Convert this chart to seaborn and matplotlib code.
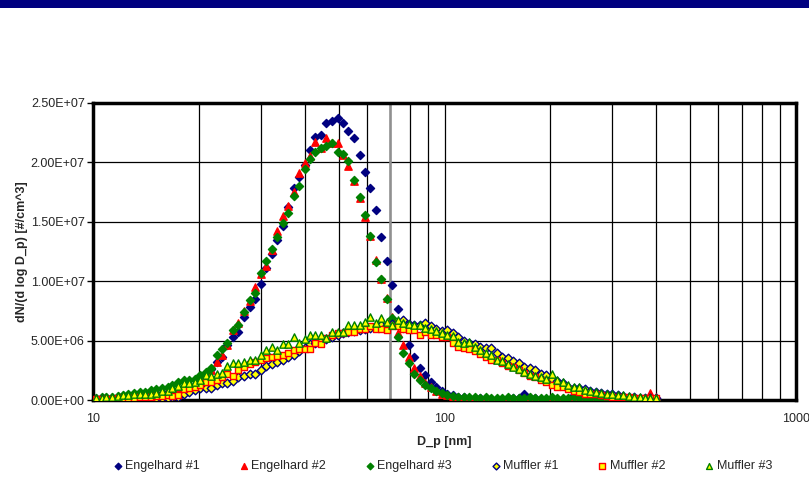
import numpy as np
import pandas as pd
import seaborn as sns
import matplotlib as mpl
mpl.use('Agg')
import matplotlib.pyplot as plt
from matplotlib.ticker import FuncFormatter, LogLocator, NullFormatter, MultipleLocator
from matplotlib.patches import Rectangle

# SMPS bin mid-points [nm]
dp = [10.2, 10.6, 10.9, 11.3, 11.8, 12.2, 12.6, 13.1, 13.6, 14.1,
      14.6, 15.1, 15.7, 16.3, 16.8, 17.5, 18.1, 18.8, 19.5, 20.2,
      20.9, 21.7, 22.5, 23.3, 24.1, 25.0, 25.9, 26.9, 27.9, 28.9,
      30.0, 31.1, 32.2, 33.4, 34.6, 35.9, 37.2, 38.5, 40.0, 41.4,
      42.9, 44.5, 46.1, 47.8, 49.6, 51.4, 53.3, 55.2, 57.3, 59.4,
      61.5, 63.8, 66.1, 68.5, 71.0, 73.7, 76.4, 79.1, 82.0, 85.1,
      88.2, 91.4, 94.7, 98.2, 101.8, 105.5, 109.4, 113.4, 117.6, 121.9,
      126.3, 131.0, 135.8, 140.7, 145.9, 151.2, 156.8, 162.5, 168.5, 174.7,
      181.1, 187.7, 194.6, 201.7, 209.1, 216.7, 224.7, 232.9, 241.4, 250.3,
      259.5, 269.0, 278.8, 289.0, 299.6, 310.6, 322.0, 333.8, 346.0, 358.7,
      371.8, 385.4, 399.5]

# dN/dlogDp in units of 1e6 #/cm^3
engelhard_1 = [0.10, 0.12, 0.14, 0.18, 0.22, 0.26, 0.30, 0.35, 0.40, 0.45,
               0.50, 0.55, 0.62, 0.70, 0.78, 0.88, 1.00, 1.10, 1.25, 1.45,
               1.90, 2.60, 3.20, 3.60, 4.60, 5.30, 5.70, 7.00, 7.80, 8.50,
               9.80, 11.1, 12.3, 13.5, 14.6, 16.2, 17.8, 18.8, 19.8, 21.0,
               22.1, 22.3, 23.3, 23.5, 23.7, 23.3, 22.6, 22.0, 20.6, 19.2,
               17.8, 16.0, 13.7, 11.7, 9.7, 7.7, 6.1, 4.6, 3.6, 2.7,
               2.1, 1.5, 1.1, 0.75, 0.5, 0.4, 0.3, 0.25, 0.2, 0.18,
               0.15, 0.12, 0.1, 0.1, 0.12, 0.15, 0.2, 0.15, 0.55, 0.2,
               0.15, 0.12, 0.1, 0.1, 0.12, 0.1, 0.08, 0.4, 0.1, 0.08,
               0.06, 0.06, 0.05, 0.05, 0.05, 0.04, 0.04, 0.03, 0.03, 0.03,
               0.02, 0.02, 0.02]
engelhard_2 = [0.10, 0.15, 0.18, 0.20, 0.25, 0.30, 0.35, 0.40, 0.45, 0.50,
               0.55, 0.62, 0.70, 0.80, 0.90, 1.05, 1.20, 1.30, 1.45, 1.80,
               2.20, 2.50, 3.20, 3.80, 4.60, 5.90, 6.50, 7.50, 8.30, 9.50,
               10.6, 11.3, 12.6, 14.2, 15.5, 16.3, 17.5, 19.1, 19.9, 20.5,
               21.7, 21.2, 22.0, 21.6, 21.6, 20.6, 19.7, 18.4, 17.0, 15.4,
               13.8, 11.8, 10.2, 8.6, 7.0, 5.6, 4.6, 3.6, 2.7, 2.0,
               1.4, 1.1, 0.8, 0.55, 0.4, 0.3, 0.25, 0.2, 0.18, 0.15,
               0.12, 0.1, 0.12, 0.1, 0.1, 0.12, 0.1, 0.12, 0.15, 0.12,
               0.15, 0.12, 0.1, 0.12, 0.1, 0.15, 0.12, 0.1, 0.12, 0.1,
               0.12, 0.1, 0.1, 0.12, 0.1, 0.1, 0.12, 0.1, 0.15, 0.1,
               0.12, 0.6, 0.3]
engelhard_3 = [0.15, 0.30, 0.30, 0.30, 0.35, 0.40, 0.55, 0.58, 0.65, 0.70,
               0.85, 0.90, 1.00, 1.10, 1.30, 1.50, 1.70, 1.70, 1.75, 2.10,
               2.40, 2.70, 3.80, 4.30, 4.80, 5.90, 6.30, 7.40, 8.40, 9.00,
               10.7, 11.7, 12.7, 13.7, 14.9, 15.7, 17.2, 18.0, 19.4, 20.3,
               20.9, 21.2, 21.4, 21.6, 20.9, 20.7, 20.1, 18.5, 17.1, 15.6,
               13.8, 11.6, 10.2, 8.5, 6.9, 5.3, 4.0, 3.1, 2.2, 1.7,
               1.3, 1.0, 0.8, 0.6, 0.45, 0.35, 0.3, 0.25, 0.25, 0.22,
               0.2, 0.22, 0.2, 0.18, 0.2, 0.22, 0.2, 0.18, 0.2, 0.22,
               0.2, 0.18, 0.2, 0.22, 0.2, 0.18, 0.2, 0.22, 0.2, 0.18,
               0.2, 0.18, 0.15, 0.18, 0.15, 0.15, 0.12, 0.15, 0.12, 0.1,
               0.12, 0.1, 0.12]
muffler_1 = [0.05, 0.05, 0.06, 0.06, 0.07, 0.08, 0.08, 0.10, 0.10, 0.12,
             0.12, 0.15, 0.18, 0.20, 0.25, 0.30, 0.50, 0.70, 0.85, 1.00,
             1.00, 1.05, 1.25, 1.40, 1.45, 1.60, 1.90, 2.00, 2.20, 2.20,
             2.50, 2.90, 3.00, 3.20, 3.40, 3.60, 3.80, 4.10, 4.40, 4.70,
             4.80, 5.00, 5.10, 5.30, 5.50, 5.60, 5.70, 5.80, 5.90, 6.00,
             6.10, 6.20, 6.30, 6.30, 6.40, 6.50, 6.70, 6.40, 6.30, 6.30,
             6.50, 6.20, 6.00, 5.80, 5.90, 5.60, 5.30, 5.00, 4.80, 4.70,
             4.50, 4.40, 4.40, 4.00, 3.60, 3.50, 3.30, 3.10, 2.80, 2.70,
             2.50, 2.20, 2.10, 1.80, 1.60, 1.40, 1.10, 1.00, 1.00, 0.90,
             0.80, 0.70, 0.60, 0.50, 0.50, 0.40, 0.35, 0.30, 0.25, 0.20,
             0.20, 0.15, 0.15]
muffler_2 = [0.10, 0.10, 0.10, 0.10, 0.15, 0.15, 0.20, 0.20, 0.25, 0.30,
             0.30, 0.35, 0.35, 0.40, 0.35, 0.40, 0.90, 1.00, 1.10, 1.30,
             1.50, 1.50, 1.70, 1.90, 2.20, 2.00, 2.50, 2.80, 3.00, 3.20,
             3.40, 3.50, 3.60, 3.70, 3.80, 4.00, 4.20, 4.30, 4.30, 4.30,
             4.80, 4.70, 5.20, 5.50, 5.60, 5.60, 5.70, 5.70, 6.00, 6.00,
             6.20, 6.00, 6.00, 5.90, 6.20, 6.20, 6.00, 5.90, 5.90, 5.50,
             5.70, 5.50, 5.50, 5.30, 5.30, 4.80, 4.50, 4.40, 4.30, 4.10,
             3.90, 3.60, 3.40, 3.40, 3.10, 2.90, 2.80, 2.50, 2.30, 2.00,
             1.90, 1.70, 1.50, 1.30, 1.10, 1.10, 0.90, 0.80, 0.70, 0.55,
             0.50, 0.50, 0.40, 0.35, 0.30, 0.30, 0.25, 0.25, 0.20, 0.20,
             0.20, 0.15, 0.15]
muffler_3 = [0.15, 0.20, 0.25, 0.30, 0.35, 0.40, 0.40, 0.50, 0.50, 0.55,
             0.55, 0.60, 0.75, 0.80, 1.05, 1.20, 1.45, 1.45, 1.55, 1.70,
             2.10, 2.00, 2.20, 2.30, 2.90, 3.10, 3.10, 3.20, 3.40, 3.40,
             3.80, 4.20, 4.50, 4.20, 4.70, 4.70, 5.30, 4.80, 5.10, 5.50,
             5.50, 5.50, 5.20, 5.70, 5.70, 5.70, 6.30, 6.30, 6.30, 6.60,
             7.00, 6.50, 6.90, 6.60, 6.30, 6.70, 6.50, 6.40, 6.30, 6.30,
             6.10, 6.00, 5.80, 5.60, 5.50, 5.40, 4.90, 4.80, 4.90, 4.50,
             4.20, 4.00, 3.80, 3.40, 3.30, 3.00, 2.80, 2.60, 2.40, 2.20,
             2.00, 1.90, 1.80, 2.20, 1.70, 1.50, 1.30, 1.10, 1.10, 0.85,
             0.80, 0.70, 0.60, 0.50, 0.50, 0.45, 0.40, 0.35, 0.30, 0.25,
             0.20, 0.20, 0.15]

names = ['Engelhard #1', 'Engelhard #2', 'Engelhard #3',
         'Muffler #1', 'Muffler #2', 'Muffler #3']
values = [engelhard_1, engelhard_2, engelhard_3, muffler_1, muffler_2, muffler_3]

# marker, face, edge, size
styles = {
    'Engelhard #1': ('D', '#000080', '#000080', 17),
    'Engelhard #2': ('^', '#FF0000', '#FF0000', 28),
    'Engelhard #3': ('D', '#008000', '#008000', 17),
    'Muffler #1': ('D', '#FFFF00', '#000080', 19),
    'Muffler #2': ('s', '#FFFF00', '#FF0000', 24),
    'Muffler #3': ('^', '#FFFF00', '#008000', 28),
}

df = pd.concat([pd.DataFrame({'dp': dp,
                              'conc': np.array(v) * 1e6,
                              'series': n}) for n, v in zip(names, values)])

sns.set_style('white')
plt.rcParams['font.family'] = ['Liberation Sans', 'DejaVu Sans']

fig, ax = plt.subplots(figsize=(8.09, 4.78), dpi=100)
fig.subplots_adjust(left=0.115, right=0.984, top=0.785, bottom=0.163)

# navy banner on top
fig.patches.append(Rectangle((0, 1 - 8 / 478), 1, 8 / 478, transform=fig.transFigure,
                             facecolor='#000080', edgecolor='none'))

for n in names:
    m, fc, ec, s = styles[n]
    sns.scatterplot(data=df[df['series'] == n], x='dp', y='conc', marker=m, s=s,
                    color=fc, edgecolor=ec, linewidth=1.0, label=n, ax=ax, zorder=3)

ax.set_xscale('log')
ax.set_xlim(10, 1000)
ax.set_ylim(0, 2.5e7)
ax.yaxis.set_major_locator(MultipleLocator(5e6))
ax.yaxis.set_major_formatter(FuncFormatter(lambda v, p: f'{v:.2E}'))
ax.xaxis.set_major_locator(LogLocator(base=10))
ax.xaxis.set_minor_locator(LogLocator(base=10, subs=np.arange(2, 10)))
ax.xaxis.set_major_formatter(FuncFormatter(lambda v, p: f'{v:g}'))
ax.xaxis.set_minor_formatter(NullFormatter())

ax.grid(which='both', axis='x', color='black', lw=0.9)
ax.grid(which='major', axis='y', color='black', lw=0.9)
ax.axvline(70, color='#909090', lw=1.8, zorder=1.5)
ax.set_axisbelow(True)

for sp in ax.spines.values():
    sp.set_color('black')
    sp.set_linewidth(2.5)

ax.tick_params(axis='y', which='major', direction='out', length=4, width=1,
               color='black', labelsize=9, pad=2, left=True)
ax.tick_params(axis='x', which='major', direction='out', length=0,
               labelsize=9, pad=9)
ax.tick_params(axis='x', which='minor', length=0)

ax.set_xlabel('D_p [nm]', fontsize=9, fontweight='bold', labelpad=8)
ax.set_ylabel('dN/(d log D_p) [#/cm^3]', fontsize=9, fontweight='bold', labelpad=2)

handles, labels = ax.get_legend_handles_labels()
ax.get_legend().remove()
fig.legend(handles, labels, loc='center', bbox_to_anchor=(0.546, 1 - 466 / 478),
           ncol=6, frameon=False, fontsize=9, markerscale=0.8,
           handletextpad=0.1, columnspacing=3.0, handlelength=1.0)

fig.savefig('out.png', dpi=100)
